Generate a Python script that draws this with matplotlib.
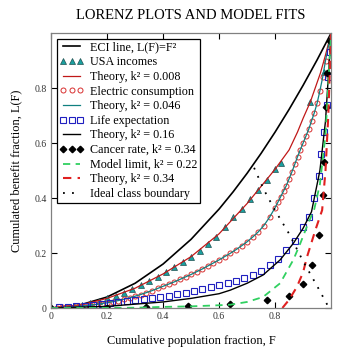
import numpy as np
import matplotlib
matplotlib.use("Agg")
import matplotlib.pyplot as plt

plt.rcParams['font.family'] = ['Liberation Serif', 'DejaVu Serif']

# ECI line L(F) = F^2
eci_f = [0, 0.1, 0.2, 0.3, 0.4, 0.5, 0.6, 0.65, 0.7, 0.75, 0.8, 0.85, 0.9, 0.95, 1.0]
eci_l = [0, 0.01, 0.04, 0.09, 0.16, 0.25, 0.36, 0.4225, 0.49, 0.5625, 0.64, 0.7225, 0.81, 0.9025, 1.0]

# USA incomes (triangles) and theory k^2 = 0.008
usa_f = [0.05, 0.08, 0.11, 0.14, 0.17, 0.20, 0.23, 0.26, 0.29, 0.32, 0.35, 0.38,
         0.41, 0.44, 0.47, 0.50, 0.53, 0.56, 0.59, 0.62, 0.65, 0.68, 0.71, 0.74,
         0.77, 0.80, 0.82, 0.926, 0.973]
usa_l = [0.003, 0.007, 0.012, 0.018, 0.026, 0.035, 0.045, 0.056, 0.068, 0.082, 0.097, 0.113,
         0.130, 0.148, 0.167, 0.187, 0.208, 0.232, 0.258, 0.295, 0.330, 0.360, 0.395, 0.430,
         0.465, 0.505, 0.527, 0.75, 0.86]
th1_f = [0, 0.1, 0.2, 0.3, 0.4, 0.5, 0.6, 0.7, 0.8, 0.85, 0.88, 0.9, 0.926, 0.962, 0.98, 1.0]
th1_l = [0, 0.01, 0.035, 0.072, 0.124, 0.187, 0.27, 0.38, 0.505, 0.575, 0.64, 0.69, 0.75, 0.855, 0.92, 1.0]

# Electric consumption (circles) and theory k^2 = 0.046
el_f = [0.02, 0.04, 0.06, 0.08, 0.10, 0.12, 0.14, 0.16, 0.18, 0.20, 0.22, 0.24, 0.26,
        0.28, 0.30, 0.32, 0.34, 0.36, 0.38, 0.40, 0.42, 0.44, 0.46, 0.48, 0.50, 0.52,
        0.54, 0.56, 0.58, 0.60, 0.62, 0.64, 0.66, 0.68, 0.70, 0.72, 0.74, 0.76, 0.78,
        0.80, 0.81, 0.82, 0.83, 0.84, 0.85, 0.86, 0.87, 0.88, 0.89, 0.90, 0.91, 0.92,
        0.93, 0.94, 0.95, 0.96, 0.97, 0.98]
el_l = [0.001, 0.002, 0.003, 0.004, 0.006, 0.008, 0.010, 0.013, 0.016, 0.019, 0.023, 0.027, 0.032,
        0.037, 0.043, 0.049, 0.056, 0.063, 0.071, 0.079, 0.087, 0.095, 0.104, 0.113, 0.122, 0.132,
        0.142, 0.153, 0.164, 0.175, 0.187, 0.199, 0.212, 0.226, 0.241, 0.258, 0.277, 0.300, 0.330,
        0.365, 0.385, 0.405, 0.425, 0.445, 0.470, 0.495, 0.522, 0.550, 0.575, 0.600, 0.625, 0.650,
        0.680, 0.710, 0.745, 0.790, 0.840, 0.900]
th2_f = [0] + el_f + [1.0]
th2_l = [0] + el_l + [1.0]

# Life expectancy (squares) and theory k^2 = 0.16
life_f = [0.03, 0.06, 0.09, 0.12, 0.15, 0.18, 0.21, 0.24, 0.27, 0.30, 0.33, 0.36, 0.39,
          0.42, 0.45, 0.48, 0.51, 0.54, 0.57, 0.60, 0.63, 0.66, 0.69, 0.72, 0.75, 0.78,
          0.81, 0.84, 0.87, 0.90, 0.92, 0.94, 0.955, 0.965, 0.975, 0.985, 0.99, 0.995]
life_l = [0.002, 0.004, 0.006, 0.008, 0.011, 0.014, 0.017, 0.021, 0.025, 0.029, 0.033, 0.037, 0.041,
          0.045, 0.050, 0.056, 0.063, 0.070, 0.077, 0.084, 0.092, 0.100, 0.110, 0.120, 0.133, 0.155,
          0.180, 0.210, 0.245, 0.295, 0.330, 0.400, 0.480, 0.560, 0.640, 0.740, 0.840, 0.930]
th3_f = [0, 0.2, 0.4, 0.5, 0.6, 0.64, 0.7, 0.757, 0.818, 0.865, 0.9, 0.93, 0.96, 0.98, 1.0]
th3_l = [0, 0.006, 0.022, 0.035, 0.052, 0.065, 0.09, 0.12, 0.175, 0.235, 0.29, 0.35, 0.50, 0.68, 1.0]

# Cancer rate (diamonds)
can_f = [0.0, 0.2, 0.34, 0.49, 0.64, 0.77, 0.848, 0.90, 0.93, 0.955, 0.97, 0.976, 0.982, 0.987, 0.995]
can_l = [0.0, 0.0, 0.004, 0.007, 0.015, 0.030, 0.045, 0.087, 0.156, 0.265, 0.41, 0.53, 0.73, 0.855, 0.97]

# Model limit k^2 = 0.22
lim_f = [0, 0.3, 0.4, 0.5, 0.6, 0.64, 0.7, 0.757, 0.818, 0.865, 0.89, 0.915, 0.94, 0.96, 0.98, 1.0]
lim_l = [0, 0.001, 0.004, 0.006, 0.010, 0.012, 0.022, 0.040, 0.090, 0.175, 0.235, 0.30, 0.36, 0.45, 0.63, 1.0]

# Theory k^2 = 0.34
th4_f = [0.826, 0.85, 0.878, 0.90, 0.914, 0.944, 0.968, 0.98, 0.99, 1.0]
th4_l = [0.0, 0.03, 0.077, 0.13, 0.186, 0.284, 0.356, 0.50, 0.70, 1.0]

# Ideal class boundary
icb_f = [0.725, 0.76, 0.80, 0.85, 0.90, 0.95, 0.99]
icb_l = [0.51, 0.43, 0.355, 0.27, 0.17, 0.08, 0.005]

fig = plt.figure(figsize=(3.5, 3.52), dpi=100)
ax = fig.add_axes([0.146, 0.125, 0.80, 0.781])

ax.plot(eci_f, eci_l, color='black', lw=1.2, label='ECI line, L(F)=F²')
ax.plot(usa_f, usa_l, ls='none', marker='^', ms=3.8, mfc='#1aa0a0', mec='#205050', mew=0.5,
        label='USA incomes')
ax.plot(th1_f, th1_l, color='#c01818', lw=0.9, label='Theory, k² = 0.008')
ax.plot(el_f, el_l, ls='none', marker='o', ms=3.6, mfc='none', mec='#d83030', mew=0.7,
        label='Electric consumption')
ax.plot(th2_f, th2_l, color='#108080', lw=0.9, label='Theory, k² = 0.046')
ax.plot(life_f, life_l, ls='none', marker='s', ms=4.3, mfc='none', mec='#2020c0', mew=0.8,
        label='Life expectation')
ax.plot(th3_f, th3_l, color='black', lw=1.0, label='Theory, k² = 0.16')
ax.plot(can_f, can_l, ls='none', marker='D', ms=3.3, mfc='black', mec='black',
        label='Cancer rate, k² = 0.34')
ax.plot(lim_f, lim_l, color='#30d060', lw=1.3, ls=(0, (4, 3)), label='Model limit, k² = 0.22')
ax.plot(th4_f, th4_l, color='#e02020', lw=1.5, ls=(0, (4, 3)), label='Theory, k² = 0.34')
ax.plot(icb_f, icb_l, color='black', lw=1.3, ls=(0, (1, 4)), label='Ideal class boundary')

ax.set_xlim(0, 1.0)
ax.set_ylim(0, 1.0)
ax.set_xticks([0, 0.2, 0.4, 0.6, 0.8])
ax.set_yticks([0, 0.2, 0.4, 0.6, 0.8])
ax.set_xticklabels(['0', '0.2', '0.4', '0.6', '0.8'])
ax.set_yticklabels(['0', '0.2', '0.4', '0.6', '0.8'])
ax.tick_params(direction='in', top=True, right=True, length=4, width=0.8, labelsize=7,
               pad=3, labelcolor='#333333')
for s in ax.spines.values():
    s.set_color('#808080')
    s.set_linewidth(0.9)

ax.set_title('LORENZ PLOTS AND MODEL FITS', fontsize=10.5, pad=10)
ax.set_xlabel('Cumulative population fraction, F', fontsize=8.9, labelpad=10)
ax.set_ylabel('Cumulated benefit fraction, L(F)', fontsize=8.9, labelpad=9)

leg = ax.legend(loc='upper left', fontsize=8.7, numpoints=3, handlelength=2.0,
                handletextpad=0.5, labelspacing=0.22, borderpad=0.25, borderaxespad=0.45,
                fancybox=False, framealpha=1, edgecolor='black')
leg.get_frame().set_linewidth(0.9)

fig.savefig('out.png', dpi=100)
